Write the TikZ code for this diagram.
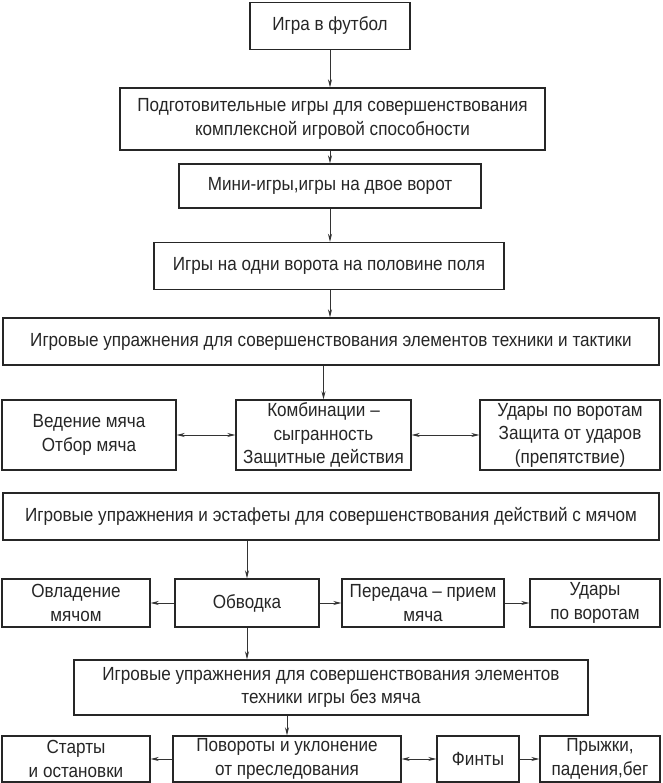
\documentclass[tikz,border=0pt]{standalone}
\usepackage{fontspec}
\setmainfont[FakeStretch=0.9]{Liberation Sans}
\usetikzlibrary{arrows.meta}
\begin{document}
\begin{tikzpicture}[x=1pt,y=-1pt,
  box/.style={draw=black!85, line width=1.4pt, fill=white, inner sep=0pt, align=center,
    text=black!85, font=\fontsize{19}{23.5}\selectfont},
  arr/.style={draw=black!80, line width=0.8pt, -{Stealth[length=8pt,width=4pt]}},
  darr/.style={draw=black!80, line width=0.8pt, {Stealth[length=8pt,width=4pt]}-{Stealth[length=8pt,width=4pt]}}]
\useasboundingbox[fill=white] (0,0) rectangle (662,783);
\node[box, minimum width=160pt, minimum height=47pt] (b1) at (330,26) {Игра в футбол};
\node[box, minimum width=425pt, minimum height=62pt] (b2) at (332.5,119) {Подготовительные игры для совершенствования\\комплексной игровой способности};
\node[box, minimum width=302pt, minimum height=44pt] (b3) at (330,186) {Мини-игры,игры на двое ворот};
\node[box, minimum width=350pt, minimum height=47pt] (b4) at (329,266) {Игры на одни ворота на половине поля};
\node[box, minimum width=656pt, minimum height=47pt] (b5) at (331,341.5) {Игровые упражнения для совершенствования элементов техники и тактики};
\node[box, minimum width=174pt, minimum height=70pt] (a1) at (89,435) {Ведение мяча\\Отбор мяча};
\node[box, minimum width=175pt, minimum height=70pt] (a2) at (323.5,435) {Комбинации –\\сыгранность\\Защитные действия};
\node[box, minimum width=180pt, minimum height=70pt] (a3) at (570,435) {Удары по воротам\\Защита от ударов\\(препятствие)};
\node[box, minimum width=656pt, minimum height=47pt] (b6) at (331,516.5) {Игровые упражнения и эстафеты для совершенствования действий с мячом};
\node[box, minimum width=148pt, minimum height=48pt] (r1) at (76,603) {Овладение\\мячом};
\node[box, minimum width=144pt, minimum height=48pt] (r2) at (247,603) {Обводка};
\node[box, minimum width=162pt, minimum height=48pt] (r3) at (423,603) {Передача – прием\\мяча};
\node[box, minimum width=130pt, minimum height=48pt] (r4) at (595,603) {Удары\\по воротам};
\node[box, minimum width=514pt, minimum height=55pt] (b7) at (331,687.5) {Игровые упражнения для совершенствования элементов\\техники игры без мяча};
\node[box, minimum width=148pt, minimum height=46pt] (c1) at (76,759) {Старты\\и остановки};
\node[box, minimum width=228pt, minimum height=46pt] (c2) at (287,759) {Повороты и уклонение\\от преследования};
\node[box, minimum width=82pt, minimum height=46pt] (c3) at (478,759) {Финты};
\node[box, minimum width=120pt, minimum height=46pt] (c4) at (600,759) {Прыжки,\\падения,бег};
\draw[arr] (b1.south) -- (b1.south |- b2.north);
\draw[arr] (b1 |- b2.south) -- (b1 |- b3.north);
\draw[arr] (b1 |- b3.south) -- (b1 |- b4.north);
\draw[arr] (b1 |- b4.south) -- (b1 |- b5.north);
\draw[arr] (a2 |- b5.south) -- (a2.north);
\draw[darr] (a1.east) -- (a2.west);
\draw[darr] (a2.east) -- (a3.west);
\draw[arr] (r2 |- b6.south) -- (r2.north);
\draw[arr] (r2.west) -- (r1.east);
\draw[arr] (r2.east) -- (r3.west);
\draw[arr] (r3.east) -- (r4.west);
\draw[arr] (r2.south) -- (r2 |- b7.north);
\draw[arr] (c2 |- b7.south) -- (c2.north);
\draw[arr] (c2.west) -- (c1.east);
\draw[darr] (c2.east) -- (c3.west);
\draw[arr] (c3.east) -- (c4.west);
\end{tikzpicture}
\end{document}
